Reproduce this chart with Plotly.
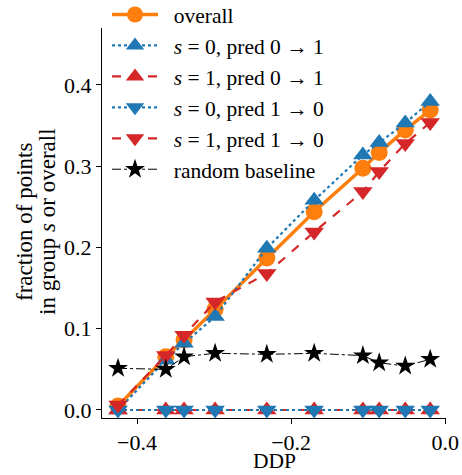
import plotly.graph_objects as go

ddp = [-0.4247, -0.3627, -0.339, -0.2987, -0.2316, -0.1701, -0.1069, -0.0857, -0.0519, -0.0195]
overall = [0.005, 0.0656, 0.086, 0.124, 0.187, 0.244, 0.2975, 0.3167, 0.3446, 0.369]
s0_pred01 = [0.0, 0.0615, 0.082, 0.115, 0.199, 0.258, 0.3138, 0.329, 0.353, 0.3795]
s1_pred01 = [0.0, 0.0, 0.0, 0.0, 0.0, 0.0, 0.0, 0.0, 0.0, 0.0]
s0_pred10 = [0.0, 0.0, 0.0, 0.0, 0.0, 0.0, 0.0, 0.0, 0.0, 0.0]
s1_pred10 = [0.006, 0.067, 0.092, 0.133, 0.168, 0.219, 0.2687, 0.2933, 0.328, 0.3536]
baseline = [0.0513, 0.050, 0.0656, 0.0698, 0.0685, 0.0697, 0.0669, 0.0582, 0.054, 0.0624]

names = ["overall",
         "<i>s</i> = 0, pred 0 → 1",
         "<i>s</i> = 1, pred 0 → 1",
         "<i>s</i> = 0, pred 1 → 0",
         "<i>s</i> = 1, pred 1 → 0",
         "random baseline"]
ylabel_lines = ["fraction of points", "in group <i>s</i> or overall"]
xlabel = "DDP"

BLUE = "#1f77b4"
ORANGE = "#ff7f0e"
RED = "#d62728"
FONT = "Liberation Serif, Times New Roman, serif"
PAD = "\u00a0\u00a0"

fig = go.Figure()
specs = [
    (overall, names[0], ORANGE, "solid", 3.5, "circle", 17),
    (s0_pred01, names[1], BLUE, "dot", 2.2, "triangle-up", 17),
    (s1_pred01, names[2], RED, "dash", 2.2, "triangle-up", 17),
    (s0_pred10, names[3], BLUE, "dot", 2.2, "triangle-down", 17),
    (s1_pred10, names[4], RED, "dash", 2.2, "triangle-down", 17),
    (baseline, names[5], "black", "dashdot", 1.0, "star", 15),
]
for i, (vals, nm, col, dash, lw, sym, ms) in enumerate(specs):
    fig.add_trace(go.Scatter(
        x=ddp, y=vals, name=PAD + nm, mode="lines+markers",
        line=dict(color=col, dash=dash, width=lw),
        marker=dict(symbol=sym, size=ms, color=col, line=dict(width=0)),
        legendgroup=f"g{i}", cliponaxis=True,
    ))

L, R, T, B = 102, 16, 28, 57
PW, PH = 462 - L - R, 475 - T - B

fig.update_layout(
    width=462, height=475,
    margin=dict(l=L, r=R, t=T, b=B, autoexpand=False),
    paper_bgcolor="white", plot_bgcolor="white",
    font=dict(family=FONT, size=22, color="black"),
    showlegend=True,
    legend=dict(
        x=(107 - L) / PW, y=(418 + 6) / PH, xanchor="left", yanchor="top",
        bgcolor="rgba(255,255,255,0)", font=dict(family=FONT, size=21.5),
        tracegroupgap=0, itemwidth=46,
    ),
    xaxis=dict(
        range=[-0.4455, 0.001], tickvals=[-0.4, -0.2, 0.0], tickformat=".1f",
        showline=True, linecolor="black", linewidth=1, mirror=False,
        ticks="outside", ticklen=5, tickcolor="black", showgrid=False, zeroline=False,
        tickfont=dict(family=FONT, size=22),
    ),
    yaxis=dict(
        range=[-0.00985, 0.470], tickvals=[0.0, 0.1, 0.2, 0.3, 0.4], tickformat=".1f",
        showline=True, linecolor="black", linewidth=1, mirror=False,
        ticks="outside", ticklen=5, tickcolor="black", showgrid=False, zeroline=False,
        tickfont=dict(family=FONT, size=22),
    ),
    annotations=[
        dict(text=ylabel_lines[0], textangle=-90, xref="paper", yref="paper",
             x=(24 - L) / PW, y=(418 - 222) / PH, xanchor="center", yanchor="middle",
             showarrow=False, font=dict(family=FONT, size=23)),
        dict(text=ylabel_lines[1], textangle=-90, xref="paper", yref="paper",
             x=(47 - L) / PW, y=(418 - 222) / PH, xanchor="center", yanchor="middle",
             showarrow=False, font=dict(family=FONT, size=23)),
        dict(text=xlabel, xref="paper", yref="paper",
             x=0.5, y=(418 - 475) / PH, xanchor="center", yanchor="bottom",
             showarrow=False, font=dict(family=FONT, size=21.5)),
    ],
)

fig.write_html("out.html", post_script="document.body.style.margin='0px';",
               config={"displayModeBar": False})
